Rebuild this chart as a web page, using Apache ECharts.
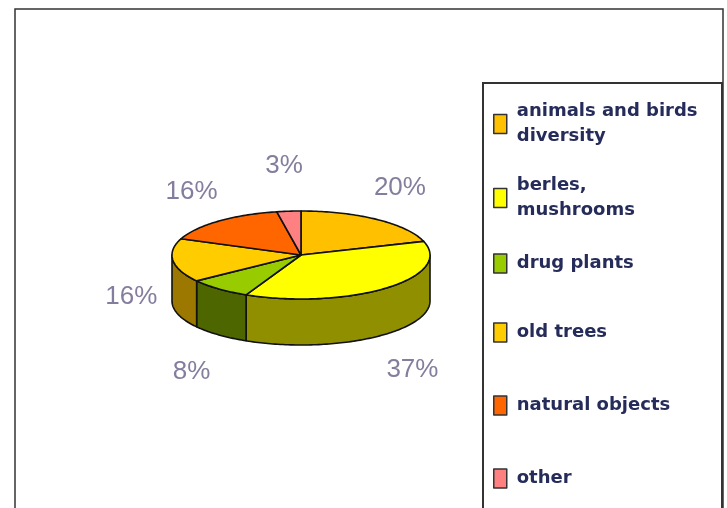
<!DOCTYPE html>
<html>
<head>
<meta charset="utf-8">
<script src="https://cdn.jsdelivr.net/npm/echarts@6/dist/echarts.min.js"></script>
<style>
  html, body { margin: 0; padding: 0; background: #fff; }
  #charts { width: 727px; height: 508px; }
</style>
</head>
<body>
<div id="charts"></div>
<script>
// data
const categories = ["animals and birds\ndiversity", "berles,\nmushrooms", "drug plants", "old trees", "natural objects", "other"];
const shares = [20, 37, 8, 16, 16, 3];

// colours: top faces and darker side walls
const topColors = ["#ffc000", "#ffff00", "#99cc00", "#ffcc00", "#ff6600", "#ff8080"];
const sideColors = ["#997300", "#8f8f00", "#4d6600", "#9c7800", "#993d00", "#994d4d"];

// pseudo 3d geometry
const CX = 301, CY = 255, RX = 129, RY = 44, DEPTH = 46;
const LCX = 300, LCY = 282, LRX = 170, LRY = 117;
// legend rows (top of each row)
const legendTops = [94, 168, 246, 315, 388, 461];

let total = shares.reduce((a, b) => a + b, 0);
let angles = [];
let acc = 0;
shares.forEach((v) => {
  angles.push([(acc / total) * Math.PI * 2, ((acc + v) / total) * Math.PI * 2]);
  acc += v;
});

function pt(t, dy) {
  return [CX + RX * Math.sin(t), CY - RY * Math.cos(t) + (dy || 0)];
}
function arc(a, b, dy) {
  let n = Math.max(2, Math.ceil((b - a) / 0.02));
  let pts = [];
  for (let i = 0; i <= n; i++) pts.push(pt(a + ((b - a) * i) / n, dy));
  return pts;
}

let chartDom = document.getElementById("charts");
let myChart = echarts.init(chartDom);
let option;

let legendFont = { color: "#262c5a", fontFamily: "DejaVu Sans", fontWeight: "bold", fontSize: 18, lineHeight: 25 };

option = {
  animation: false,
  backgroundColor: "#fff",
  graphic: [
    {
      type: "rect",
      shape: { x: 15, y: 9, width: 708, height: 530 },
      style: { fill: "none", stroke: "#333", lineWidth: 1.5 },
      z: 0,
    },
    {
      type: "rect",
      shape: { x: 483, y: 83, width: 239, height: 460 },
      style: { fill: "none", stroke: "#333", lineWidth: 2 },
      z: 0,
    },
  ],
  legend: categories.map((c, i) => ({
    orient: "vertical",
    left: 488,
    top: legendTops[i],
    icon: "rect",
    itemWidth: 13,
    itemHeight: 19,
    itemStyle: { borderColor: "#333", borderWidth: 1.5 },
    data: [c],
    textStyle: Object.assign({ padding: [0, 0, 0, 5] }, legendFont),
  })),
  series: [
    {
      // only feeds the legend
      type: "pie",
      radius: [0, 0],
      center: [-50, -50],
      silent: true,
      label: { show: false },
      labelLine: { show: false },
      data: categories.map((c, i) => ({ name: c, value: shares[i], itemStyle: { color: topColors[i] } })),
    },
    {
      // side walls
      type: "custom",
      coordinateSystem: "none",
      z: 2,
      silent: true,
      data: shares,
      renderItem: function (params, api) {
        let i = params.dataIndex;
        let a = Math.max(angles[i][0], Math.PI / 2);
        let b = Math.min(angles[i][1], Math.PI * 1.5);
        if (b <= a) return { type: "group", children: [] };
        let pts = arc(a, b, 0).concat(arc(a, b, DEPTH).reverse());
        return {
          type: "polygon",
          shape: { points: pts },
          style: { fill: sideColors[i], stroke: "#111", lineWidth: 1.6, lineJoin: "round" },
        };
      },
    },
    {
      // top faces and percent labels
      type: "custom",
      coordinateSystem: "none",
      z: 3,
      silent: true,
      data: shares,
      renderItem: function (params, api) {
        let i = params.dataIndex;
        let a = angles[i][0], b = angles[i][1];
        let m = (a + b) / 2;
        let pts = [[CX, CY]].concat(arc(a, b, 0));
        return {
          type: "group",
          children: [
            {
              type: "polygon",
              shape: { points: pts },
              style: { fill: topColors[i], stroke: "#111", lineWidth: 1.6, lineJoin: "round" },
            },
            {
              type: "text",
              x: LCX + LRX * Math.sin(m),
              y: LCY - LRY * Math.cos(m),
              style: {
                text: Math.round((api.value(0) / total) * 100) + "%",
                fill: "#857d9e",
                font: "26px 'Liberation Sans', Arial, sans-serif",
                align: "center",
                verticalAlign: "middle",
              },
            },
          ],
        };
      },
    },
  ],
};

option && myChart.setOption(option);
</script>
</body>
</html>
